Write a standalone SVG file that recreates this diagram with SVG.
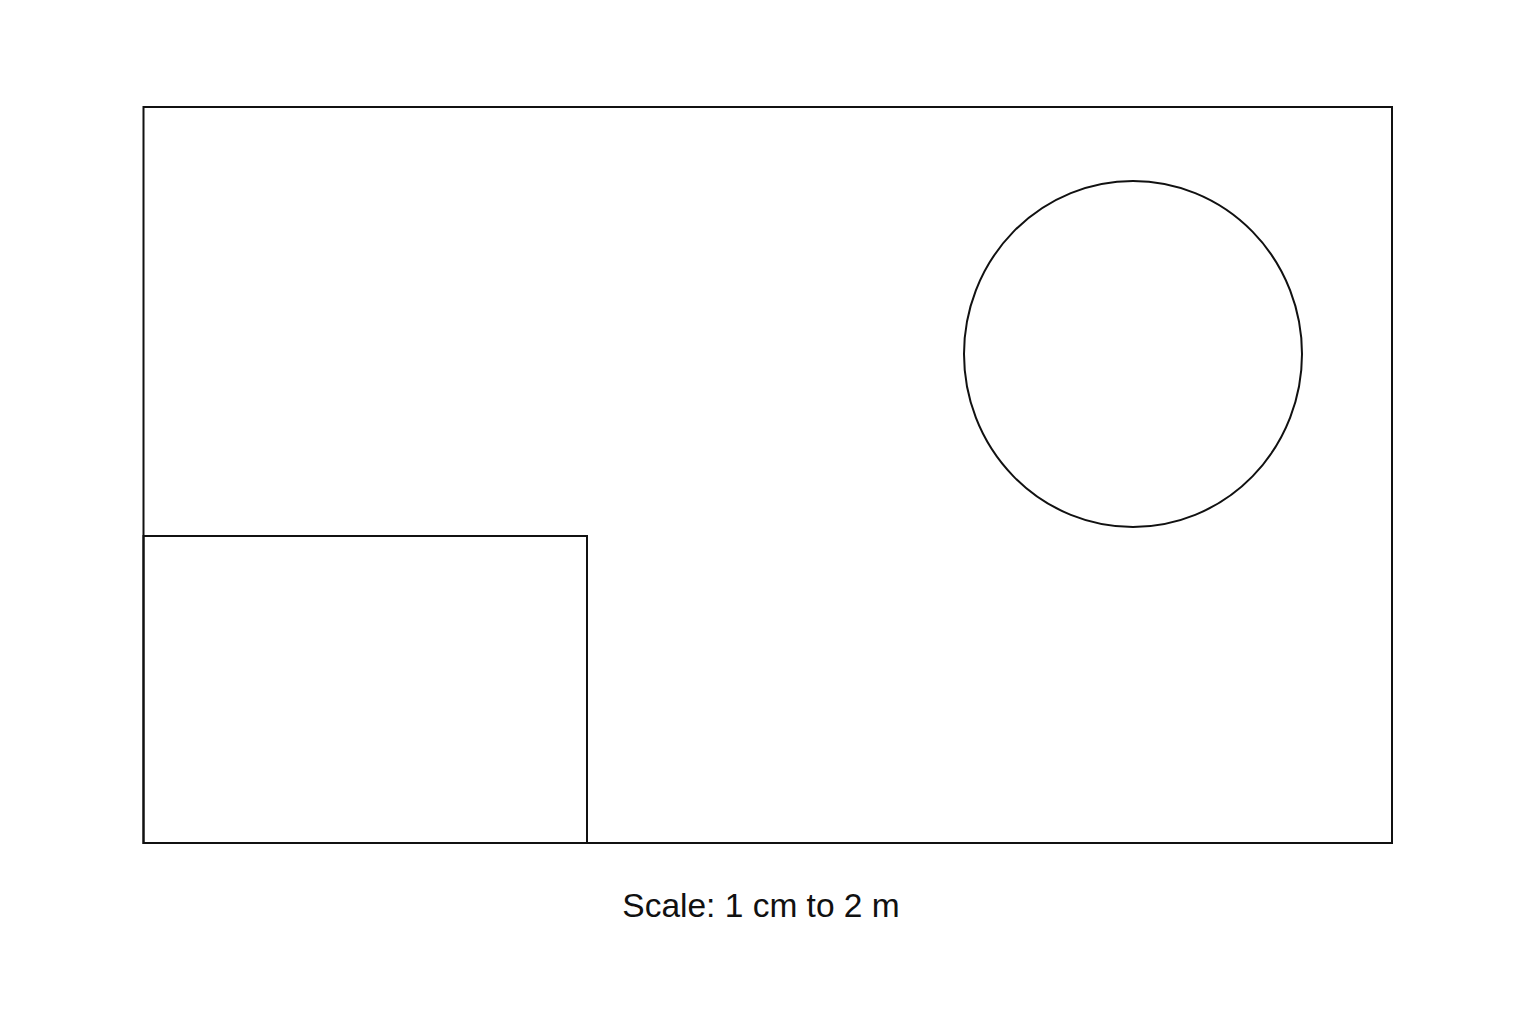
<svg xmlns="http://www.w3.org/2000/svg" width="1536" height="1024" viewBox="0 0 1536 1024">
<style>
.s{fill:none;stroke:#111;stroke-width:2}
.t{font-family:"Liberation Sans",Arial,sans-serif;font-size:33.5px;fill:#111}
</style>
<rect width="1536" height="1024" fill="#fff"/>
<g id="outer"><rect class="s" x="143.5" y="107" width="1248.5" height="736"/></g>
<g id="inner"><rect class="s" x="143.5" y="536" width="443.5" height="307"/></g>
<g id="circle"><ellipse class="s" cx="1133" cy="354" rx="169" ry="173"/></g>
<g id="connectors"></g>
<text class="t" x="761" y="917" text-anchor="middle">Scale: 1 cm to 2 m</text>
</svg>
